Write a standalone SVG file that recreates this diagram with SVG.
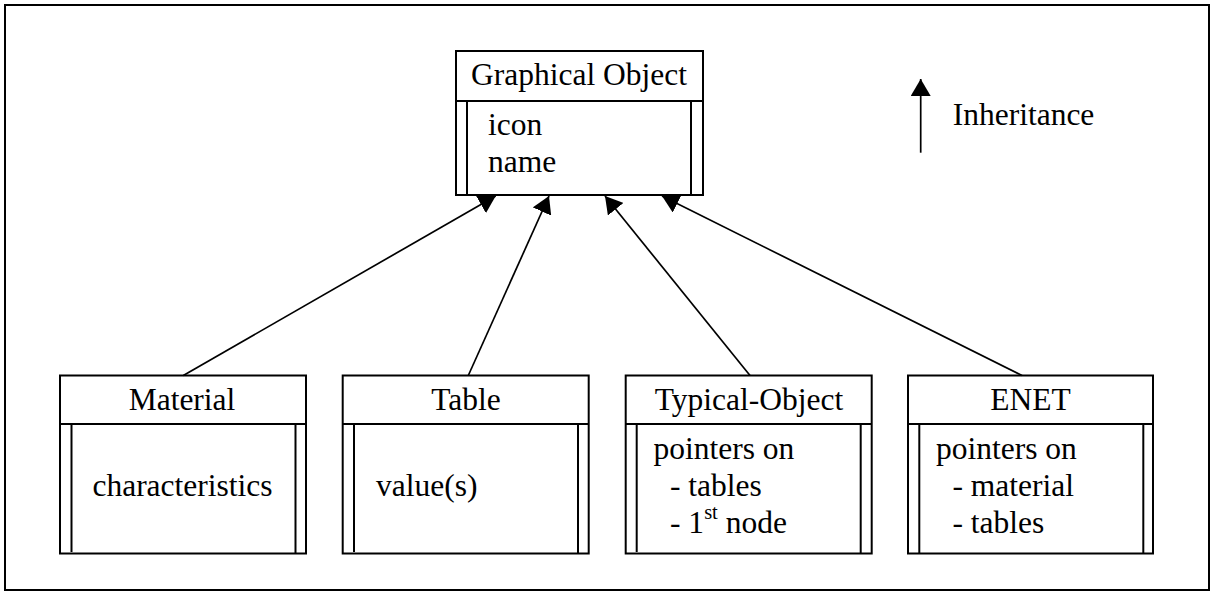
<svg xmlns="http://www.w3.org/2000/svg" width="1211" height="592" viewBox="0 0 1211 592" font-family="'Liberation Serif', 'Times New Roman', serif">
<style>
.box{fill:#fff;stroke:#000;stroke-width:2}
.ln{stroke:#000;stroke-width:2;fill:none}
.conn{stroke:#000;stroke-width:1.7;fill:none;marker-end:url(#arr)}
text{font-family:'Liberation Serif', 'Times New Roman', serif;font-size:31.5px;fill:#000}
.c{text-anchor:middle}
</style>
<defs>
<marker id="arr" viewBox="0 0 17 20" refX="17" refY="10" markerWidth="17" markerHeight="20" orient="auto" markerUnits="userSpaceOnUse">
<path d="M0,0 L17,10 L0,20 Z" fill="#000"/>
</marker>
</defs>
<rect x="0" y="0" width="1211" height="592" fill="#fff"/>
<rect x="5" y="5" width="1204" height="585" fill="none" stroke="#000" stroke-width="2"/>

<g id="graphical-object">
<rect class="box" x="456" y="51" width="247" height="144"/>
<line class="ln" x1="456" y1="101" x2="703" y2="101"/>
<line class="ln" x1="467" y1="101" x2="467" y2="195"/>
<line class="ln" x1="691" y1="101" x2="691" y2="195"/>
<text class="c" x="579" y="85">Graphical Object</text>
<text x="488" y="135">icon</text>
<text x="488" y="171.5">name</text>
</g>

<g id="material">
<rect class="box" x="60" y="375.5" width="246" height="178"/>
<line class="ln" x1="60" y1="424" x2="306" y2="424"/>
<line class="ln" x1="71.5" y1="424" x2="71.5" y2="552"/>
<line class="ln" x1="295.5" y1="424" x2="295.5" y2="553.5"/>
<text class="c" x="182" y="410">Material</text>
<text class="c" x="182.5" y="496">characteristics</text>
</g>

<g id="table">
<rect class="box" x="342.7" y="375.5" width="246" height="178"/>
<line class="ln" x1="342.7" y1="424" x2="588.7" y2="424"/>
<line class="ln" x1="354" y1="424" x2="354" y2="552"/>
<line class="ln" x1="578" y1="424" x2="578" y2="553.5"/>
<text class="c" x="466" y="410">Table</text>
<text x="376" y="496">value(s)</text>
</g>

<g id="typical-object">
<rect class="box" x="625.7" y="375.5" width="246" height="178"/>
<line class="ln" x1="625.7" y1="424" x2="871.7" y2="424"/>
<line class="ln" x1="636.7" y1="424" x2="636.7" y2="552"/>
<line class="ln" x1="860.7" y1="424" x2="860.7" y2="553.5"/>
<text class="c" x="749" y="410">Typical-Object</text>
<text x="653.5" y="459">pointers on</text>
<text x="670" y="495.5">- tables</text>
<text x="670" y="532.5">- 1<tspan font-size="20.5" dy="-13.5">st</tspan><tspan dy="13.5"> node</tspan></text>
</g>

<g id="enet">
<rect class="box" x="908" y="375.5" width="245" height="178"/>
<line class="ln" x1="908" y1="424" x2="1153" y2="424"/>
<line class="ln" x1="919.3" y1="424" x2="919.3" y2="553.5"/>
<line class="ln" x1="1143.3" y1="424" x2="1143.3" y2="553.5"/>
<text class="c" x="1030.5" y="410">ENET</text>
<text x="936" y="459">pointers on</text>
<text x="952.5" y="495.5">- material</text>
<text x="952.5" y="532.5">- tables</text>
</g>

<g id="legend">
<line class="conn" x1="920.7" y1="152.7" x2="920.7" y2="79"/>
<text x="952.7" y="125">Inheritance</text>
</g>

<g id="connectors">
<line class="conn" x1="183.3" y1="375.5" x2="495.7" y2="196"/>
<line class="conn" x1="468.3" y1="375.5" x2="549" y2="196"/>
<line class="conn" x1="750" y1="375.5" x2="605" y2="196"/>
<line class="conn" x1="1022" y1="375.5" x2="662" y2="196"/>
</g>
</svg>
